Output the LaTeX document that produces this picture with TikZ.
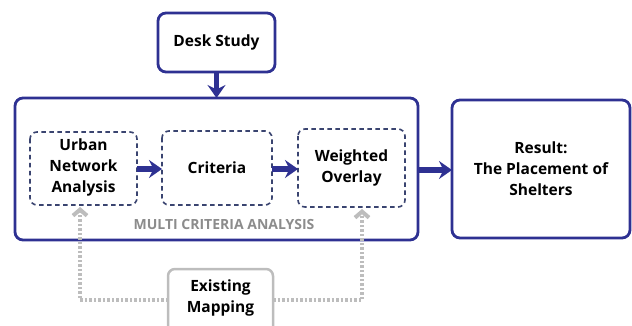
\documentclass[tikz,border=0pt]{standalone}
\usepackage{fontspec}
\setmainfont{Open Sans}
\usetikzlibrary{arrows.meta}
\definecolor{navy}{HTML}{2E3192}
\definecolor{dashnavy}{HTML}{3A4470}
\definecolor{lgrey}{HTML}{BDBDBD}
\definecolor{tgrey}{HTML}{8C8C8C}
\tikzset{
  x=1pt, y=-1pt,
  solidbox/.style={draw=navy, line width=2.8pt, rounded corners=8pt, fill=white},
  dashbox/.style={draw=dashnavy, line width=1.6pt, dash pattern=on 4.5pt off 3.5pt, rounded corners=7pt},
  greybox/.style={draw=lgrey, line width=2.5pt},
  lbl/.style={font=\bfseries\fontsize{15.5}{21}\selectfont, align=center, text=black},
  bluearrow/.style={draw=navy, line width=5.5pt, -{Stealth[length=13pt, width=18pt, inset=4.5pt]}},
  greyarrow/.style={draw=lgrey, line width=4.5pt, dash pattern=on 2.5pt off 2pt, -{Straight Barb[length=6pt, width=14pt, line width=4pt]}}
}
\begin{document}
\begin{tikzpicture}
\useasboundingbox (0,0) rectangle (632,326);
\draw[solidbox] (158,13) rectangle (275,72);
\node[lbl] (desk) at (216.5,42.5) {Desk Study};
\coordinate (deskb) at (216.5,72);
\draw[solidbox] (15,98) rectangle (418,240);
\coordinate (mcat) at (216.5,98);
\coordinate (mcar) at (418,170);
\draw[solidbox] (452,100) rectangle (630,238);
\node[lbl] (result) at (541,169) {Result:\\The Placement of\\Shelters};
\coordinate (resl) at (452,170);
\draw[dashbox] (30,132) rectangle (137,205);
\node[lbl] (urban) at (83.5,167) {Urban\\Network\\Analysis};
\draw[dashbox] (162,131) rectangle (272,205);
\node[lbl] (crit) at (217,168) {Criteria};
\draw[dashbox] (298,129) rectangle (405,207);
\node[lbl] (wo) at (351.5,168) {Weighted\\Overlay};
\coordinate (ur) at (137,169);
\coordinate (cl) at (162,169);
\coordinate (cr) at (272,169);
\coordinate (wl) at (298,169);
\node[font=\bfseries\fontsize{14}{16}\selectfont, text=tgrey] (mcalbl) at (224,224) {MULTI CRITERIA ANALYSIS};
\draw[greybox] (168,330) -- (168,276) arc (180:270:7) -- (266,269) arc (270:360:7) -- (273,330);
\node[lbl] (exist) at (220.5,297.5) {Existing\\Mapping};
\coordinate (el) at (168,300);
\coordinate (er) at (273,300);
\coordinate (ub) at (80,207);
\coordinate (wb) at (362,209);
\draw[bluearrow] (deskb) -- (mcat);
\draw[bluearrow] (ur) -- (cl);
\draw[bluearrow] (cr) -- (wl);
\draw[bluearrow] (mcar) -- (resl);
\draw[greyarrow] (el) -- (80,300) -- (ub);
\draw[greyarrow] (er) -- (362,300) -- (wb);
\end{tikzpicture}
\end{document}
